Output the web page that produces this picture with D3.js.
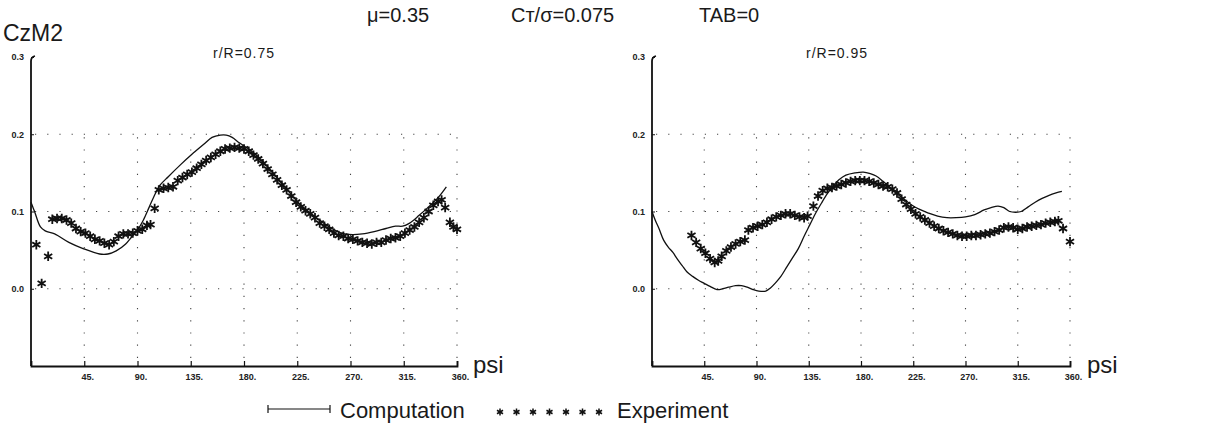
<!DOCTYPE html>
<html>
<head>
<meta charset="utf-8">
<script src="https://cdn.jsdelivr.net/npm/d3@7"></script>
<style>
  html, body { margin: 0; padding: 0; background: #fff; }
  svg { display: block; }
  .big { font-family: "Liberation Sans", Arial, sans-serif; fill: #1a1a1a; }
  .tick text { font-family: "Liberation Sans", Arial, sans-serif; font-weight: bold; font-size: 9px; fill: #222; }
</style>
</head>
<body>
<svg id="chart" width="1208" height="432"></svg>
<script>
// ---------- data ----------
const xTicks = [45, 90, 135, 180, 225, 270, 315, 360];
const xTickLabels = ["45.", "90.", "135.", "180.", "225.", "270.", "315.", "360."];
const yTicks = [0.0, 0.1, 0.2, 0.3];
const yTickLabels = ["0.0", "0.1", "0.2", "0.3"];
const panelTitles = ["r/R=0.75", "r/R=0.95"];
const headerTexts = ["\u03bc=0.35", "C\u0442/\u03c3=0.075", "TAB=0"];
const legendLabels = ["Computation", "Experiment"];

// r/R = 0.75 : computation [psi, CzM2]
const compLeft = [
  [0,0.112],[3,0.100],[8,0.080],[12,0.075],[20,0.071],[32,0.060],[44,0.052],[58,0.045],
  [65,0.045],[72,0.049],[80,0.058],[85,0.067],[90,0.076],[95,0.089],[100,0.106],[105,0.123],
  [109,0.134],[116,0.145],[126,0.160],[136,0.174],[146,0.187],[153,0.196],[160,0.199],[165,0.199],
  [170,0.196],[176,0.189],[183,0.182],[192,0.171],[200,0.158],[208,0.144],[215,0.131],[222,0.118],
  [229,0.107],[236,0.098],[243,0.090],[250,0.082],[258,0.075],[265,0.071],[272,0.070],[280,0.071],
  [290,0.074],[300,0.078],[308,0.081],[314,0.081],[320,0.085],[328,0.095],[336,0.106],[344,0.118],
  [351,0.132]
];
// r/R = 0.75 : experiment [psi, CzM2]
const expLeft = [
  [4.5,0.057],[9,0.007],[14.5,0.042],[18,0.090],[22,0.091],[26,0.091],[30,0.089],[34,0.085],
  [38,0.078],[42,0.074],[46,0.072],[50,0.068],[54,0.064],[58,0.062],[62,0.059],[66,0.057],
  [70,0.061],[74,0.068],[78,0.071],[82,0.071],[86,0.072],[90,0.075],[94,0.077],[98,0.082],
  [101,0.083],[104.5,0.104],[108,0.128],[112,0.130],[116,0.131],[120,0.132],[124,0.140],[128,0.144],
  [132,0.148],[136,0.151],[140,0.156],[144,0.161],[148,0.166],[152,0.170],[156,0.174],[160,0.178],
  [164,0.181],[168,0.182],[172,0.183],[176,0.182],[180,0.181],[184,0.178],[188,0.173],[192,0.168],
  [196,0.162],[200,0.155],[204,0.148],[208,0.141],[212,0.134],[216,0.128],[220,0.120],[224,0.112],
  [228,0.106],[232,0.101],[236,0.097],[240,0.092],[244,0.085],[248,0.081],[252,0.077],[256,0.072],
  [260,0.069],[264,0.068],[268,0.065],[272,0.064],[276,0.062],[280,0.060],[284,0.059],[288,0.058],
  [292,0.060],[296,0.060],[300,0.063],[304,0.065],[308,0.066],[312,0.068],[316,0.072],[320,0.076],
  [324,0.080],[328,0.086],[332,0.092],[336,0.100],[340,0.108],[344,0.113],[347,0.115],[350,0.105],
  [354,0.086],[357,0.080],[360,0.077]
];
// r/R = 0.95 : computation
const compRight = [
  [0,0.100],[3,0.088],[6,0.078],[10,0.063],[14,0.054],[18,0.047],[22,0.038],[26,0.030],
  [30,0.022],[35,0.016],[40,0.011],[45,0.007],[50,0.003],[56,-0.001],[61,0.000],[66,0.002],
  [72,0.004],[77,0.004],[82,0.002],[87,-0.001],[92,-0.003],[98,-0.003],[102,0.001],[106,0.007],
  [111,0.016],[116,0.028],[121,0.040],[126,0.052],[131,0.068],[136,0.083],[141,0.098],[146,0.111],
  [151,0.123],[156,0.133],[161,0.141],[167,0.147],[175,0.150],[182,0.151],[188,0.149],[193,0.146],
  [199,0.139],[205,0.131],[211,0.123],[217,0.116],[224,0.108],[230,0.103],[238,0.098],[246,0.094],
  [254,0.092],[262,0.092],[270,0.093],[278,0.096],[286,0.102],[292,0.105],[298,0.107],[303,0.105],
  [308,0.100],[313,0.099],[318,0.100],[324,0.106],[330,0.112],[336,0.117],[342,0.121],[348,0.124],
  [353,0.126]
];
// r/R = 0.95 : experiment
const expRight = [
  [34,0.069],[38,0.060],[42,0.052],[46,0.046],[50,0.039],[54,0.034],[57,0.036],[60,0.042],
  [64,0.049],[68,0.054],[72,0.058],[76,0.061],[80,0.063],[83,0.076],[87,0.079],[91,0.081],
  [95,0.083],[99,0.086],[103,0.090],[107,0.093],[111,0.095],[115,0.097],[119,0.097],[123,0.095],
  [127,0.093],[131,0.092],[134,0.094],[139,0.107],[143,0.120],[147,0.127],[151,0.130],[155,0.131],
  [159,0.133],[163,0.135],[167,0.137],[171,0.139],[175,0.140],[179,0.140],[183,0.140],[187,0.139],
  [191,0.137],[195,0.135],[199,0.133],[203,0.132],[207,0.129],[211,0.124],[215,0.116],[219,0.109],
  [223,0.103],[227,0.097],[231,0.093],[235,0.089],[239,0.085],[243,0.081],[247,0.078],[251,0.075],
  [255,0.073],[259,0.071],[263,0.069],[267,0.068],[271,0.068],[275,0.069],[279,0.069],[283,0.070],
  [287,0.071],[291,0.072],[295,0.074],[299,0.076],[303,0.079],[307,0.080],[311,0.079],[315,0.077],
  [319,0.078],[323,0.080],[327,0.081],[331,0.082],[335,0.083],[339,0.085],[343,0.086],[347,0.087],
  [350,0.088],[354,0.078],[360,0.061]
];

// ---------- drawing ----------
const svg = d3.select("#chart");
const yDomain = [-0.1, 0.3];
const yRange = [366, 57];

const panels = [
  { x0: 31, x1: 457, comp: compLeft, exp: expLeft, title: panelTitles[0], titleX: 213, psiX: 473 },
  { x0: 652, x1: 1070, comp: compRight, exp: expRight, title: panelTitles[1], titleX: 806, psiX: 1087 }
];

const star = d3.symbol().type(d3.symbolAsterisk).size(62);

panels.forEach(p => {
  const x = d3.scaleLinear().domain([0, 360]).range([p.x0, p.x1]);
  const y = d3.scaleLinear().domain(yDomain).range(yRange);
  const g = svg.append("g");

  // dotted grid
  const grid = g.append("g").attr("stroke", "#444").attr("stroke-width", 1.1)
    .attr("stroke-dasharray", "1.2,11").attr("fill", "none");
  [0.0, 0.1, 0.2].forEach(v => {
    grid.append("line").attr("x1", x(0) + 4).attr("x2", x(360)).attr("y1", y(v)).attr("y2", y(v));
  });
  xTicks.forEach(t => {
    grid.append("line").attr("x1", x(t)).attr("x2", x(t)).attr("y1", y(-0.1) - 8).attr("y2", y(0.2));
  });

  // bottom axis
  const xAxis = d3.axisBottom(x).tickValues(xTicks)
    .tickFormat((d, i) => xTickLabels[i]).tickSize(-5).tickPadding(8);
  const gx = g.append("g").attr("transform", `translate(0,${y(-0.1)})`).call(xAxis);
  gx.select(".domain").attr("stroke", "#111").attr("stroke-width", 1.8);
  gx.selectAll(".tick line").attr("stroke", "#111").attr("stroke-width", 1.2);
  gx.selectAll(".tick text").attr("dx", 3);

  // left axis
  const yAxis = d3.axisLeft(y).tickValues(yTicks)
    .tickFormat((d, i) => yTickLabels[i]).tickSize(4).tickPadding(3);
  const gy = g.append("g").attr("transform", `translate(${x(0)},0)`).call(yAxis);
  gy.select(".domain").remove();
  gy.selectAll(".tick line").attr("stroke", "#111").attr("stroke-width", 1).attr("x2", 3);
  gy.selectAll(".tick text").attr("dy", "0.32em");
  // axis line with hook at top
  g.append("path")
    .attr("d", `M${x(0)},${y(-0.1)} L${x(0)},${y(0.3) + 4} Q${x(0)},${y(0.3)} ${x(0) + 4},${y(0.3) - 1}`)
    .attr("fill", "none").attr("stroke", "#111").attr("stroke-width", 1.8);

  // computation line
  const line = d3.line().x(d => x(d[0])).y(d => y(d[1])).curve(d3.curveCatmullRom);
  g.append("path").datum(p.comp).attr("d", line)
    .attr("fill", "none").attr("stroke", "#111").attr("stroke-width", 1.3);

  // experiment stars
  g.append("g").selectAll("path").data(p.exp).join("path")
    .attr("d", star)
    .attr("transform", d => `translate(${x(d[0])},${y(d[1])})`)
    .attr("fill", "none").attr("stroke", "#111").attr("stroke-width", 1.8);

  // panel title
  g.append("text").attr("class", "big").attr("x", p.titleX).attr("y", 58)
    .attr("font-size", 14).attr("letter-spacing", 1).text(p.title);
  // psi label
  g.append("text").attr("class", "big").attr("x", p.psiX).attr("y", 373)
    .attr("font-size", 24).text("psi");
});

// header
svg.append("text").attr("class", "big").attr("x", 3).attr("y", 41).attr("font-size", 23).text("CzM2");
const headerX = [367, 511, 699];
headerTexts.forEach((t, i) => {
  svg.append("text").attr("class", "big").attr("x", headerX[i]).attr("y", 22)
    .attr("font-size", 20).text(t);
});

// legend
const lg = svg.append("g").attr("stroke", "#111").attr("fill", "none");
lg.append("line").attr("x1", 268).attr("x2", 330).attr("y1", 409).attr("y2", 409).attr("stroke-width", 1.2);
[268, 330].forEach(px => lg.append("line").attr("x1", px).attr("x2", px).attr("y1", 405).attr("y2", 413).attr("stroke-width", 1.2));
svg.append("text").attr("class", "big").attr("x", 340).attr("y", 418).attr("font-size", 22).text(legendLabels[0]);

const legendStars = d3.range(7);
svg.append("g").selectAll("path").data(legendStars).join("path")
  .attr("d", d3.symbol().type(d3.symbolAsterisk).size(34))
  .attr("transform", d => `translate(${500 + d * 16.5},${412})`)
  .attr("fill", "none").attr("stroke", "#111").attr("stroke-width", 1.5);
svg.append("text").attr("class", "big").attr("x", 617).attr("y", 418).attr("font-size", 22).text(legendLabels[1]);
</script>
</body>
</html>
